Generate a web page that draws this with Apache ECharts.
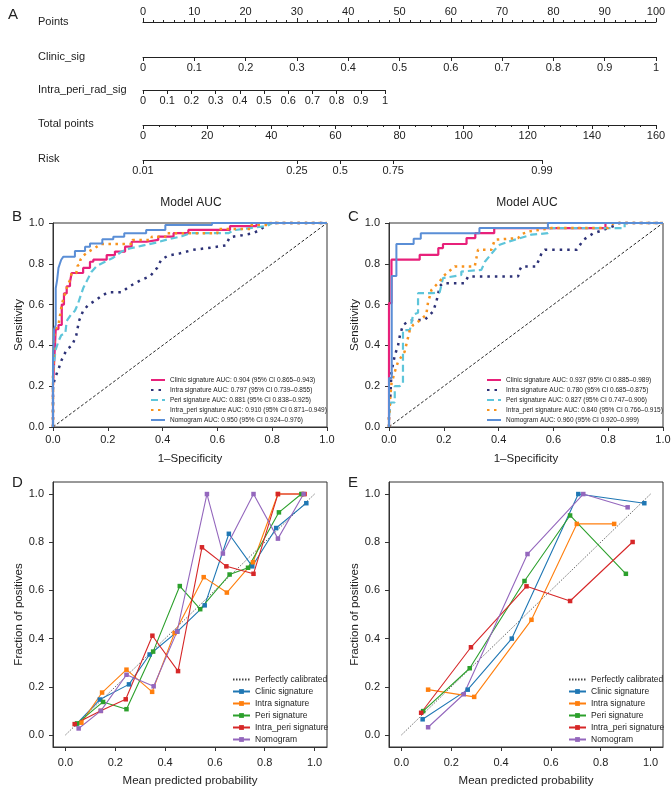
<!DOCTYPE html>
<html>
<head>
<meta charset="utf-8">
<script src="https://cdn.jsdelivr.net/npm/echarts@6/dist/echarts.min.js"></script>
<style>
  html, body { margin: 0; padding: 0; background: #fff; }
  #main { width: 672px; height: 789px; }
</style>
</head>
<body>
<div id="main"></div>
<script>
// ---- nomogram (panel A) ----
var nomoRows = ['Points', 'Clinic_sig', 'Intra_peri_rad_sig', 'Total points', 'Risk'];
var riskPoints = [0, 48, 61.5, 78, 124.4];
var riskLabels = ['0.01', '0.25', '0.5', '0.75', '0.99'];

// ---- ROC curves, training (B) and validation (C): [1-specificity, sensitivity] ----
var rocNamesB = [
  'Clinic signature AUC: 0.904 (95% CI 0.865\u20130.943)',
  'Intra signature AUC: 0.797 (95% CI 0.739\u20130.855)',
  'Peri signature AUC: 0.881 (95% CI 0.838\u20130.925)',
  'Intra_peri signature AUC: 0.910 (95% CI 0.871\u20130.949)',
  'Nomogram AUC: 0.950 (95% CI 0.924\u20130.976)'
];
var rocNamesC = [
  'Clinic signature AUC: 0.937 (95% CI 0.885\u20130.989)',
  'Intra signature AUC: 0.780 (95% CI 0.685\u20130.875)',
  'Peri signature AUC: 0.827 (95% CI 0.747\u20130.906)',
  'Intra_peri signature AUC: 0.840 (95% CI 0.766\u20130.915)',
  'Nomogram AUC: 0.960 (95% CI 0.920\u20130.999)'
];
var clinicB = [[0,0],[0,0.2],[0.005,0.2],[0.005,0.34],[0.01,0.48],[0.02,0.48],[0.02,0.5],[0.032,0.5],[0.032,0.6],[0.04,0.6],[0.04,0.655],[0.05,0.655],[0.05,0.69],[0.062,0.69],[0.062,0.71],[0.068,0.71],[0.068,0.755],[0.11,0.755],[0.11,0.78],[0.135,0.78],[0.135,0.81],[0.147,0.81],[0.147,0.82],[0.196,0.82],[0.196,0.843],[0.226,0.843],[0.226,0.86],[0.263,0.86],[0.263,0.884],[0.287,0.884],[0.287,0.908],[0.342,0.908],[0.342,0.917],[0.384,0.917],[0.384,0.933],[0.44,0.933],[0.44,0.95],[0.494,0.95],[0.494,0.966],[0.646,0.966],[0.646,0.985],[0.743,0.985],[0.743,1],[1,1]];
var intraB = [[0,0],[0,0.2],[0.007,0.24],[0.019,0.28],[0.032,0.33],[0.05,0.38],[0.07,0.4],[0.085,0.45],[0.095,0.52],[0.11,0.57],[0.13,0.6],[0.155,0.62],[0.175,0.64],[0.2,0.66],[0.25,0.66],[0.28,0.69],[0.32,0.72],[0.355,0.74],[0.38,0.78],[0.395,0.82],[0.42,0.84],[0.46,0.85],[0.51,0.868],[0.58,0.88],[0.63,0.89],[0.645,0.93],[0.69,0.94],[0.73,0.95],[0.755,0.966],[0.78,0.99],[0.8,1],[1,1]];
var periB = [[0,0],[0,0.27],[0.005,0.33],[0.01,0.38],[0.02,0.42],[0.03,0.45],[0.045,0.46],[0.05,0.52],[0.065,0.55],[0.08,0.57],[0.09,0.6],[0.1,0.64],[0.11,0.68],[0.125,0.72],[0.14,0.76],[0.16,0.79],[0.19,0.81],[0.22,0.83],[0.25,0.86],[0.28,0.875],[0.33,0.89],[0.38,0.905],[0.42,0.92],[0.47,0.935],[0.5,0.95],[0.64,0.95],[0.66,0.965],[0.72,0.975],[0.78,0.985],[0.8,1],[1,1]];
var intraPeriB = [[0,0],[0,0.25],[0.005,0.25],[0.005,0.45],[0.01,0.48],[0.02,0.5],[0.025,0.5],[0.032,0.6],[0.045,0.66],[0.055,0.7],[0.062,0.72],[0.068,0.755],[0.085,0.755],[0.09,0.79],[0.1,0.8],[0.1,0.82],[0.11,0.84],[0.13,0.86],[0.15,0.875],[0.16,0.884],[0.175,0.897],[0.29,0.897],[0.29,0.917],[0.36,0.917],[0.36,0.933],[0.41,0.933],[0.41,0.95],[0.6,0.95],[0.6,0.97],[0.72,0.97],[0.72,0.99],[0.79,0.99],[0.79,1],[1,1]];
var nomoB = [[0,0],[0,0.33],[0.004,0.33],[0.004,0.48],[0.01,0.5],[0.01,0.68],[0.015,0.72],[0.02,0.78],[0.025,0.8],[0.03,0.82],[0.038,0.835],[0.08,0.835],[0.08,0.863],[0.117,0.863],[0.117,0.884],[0.135,0.884],[0.135,0.9],[0.18,0.9],[0.18,0.92],[0.22,0.92],[0.22,0.933],[0.26,0.933],[0.26,0.95],[0.34,0.95],[0.34,0.966],[0.41,0.966],[0.41,0.99],[0.58,0.99],[0.58,1],[1,1]];

var clinicC = [[0,0],[0,0.607],[0.009,0.607],[0.009,0.82],[0.112,0.82],[0.112,0.844],[0.18,0.844],[0.18,0.877],[0.197,0.877],[0.197,0.897],[0.283,0.897],[0.283,0.926],[0.315,0.926],[0.315,0.95],[0.384,0.95],[0.384,0.975],[0.79,0.975],[0.79,1],[1,1]];
var intraC = [[0,0],[0,0.05],[0.005,0.15],[0.009,0.27],[0.021,0.35],[0.033,0.4],[0.04,0.45],[0.051,0.5],[0.069,0.516],[0.088,0.525],[0.13,0.525],[0.142,0.54],[0.161,0.566],[0.173,0.615],[0.179,0.65],[0.185,0.69],[0.197,0.705],[0.276,0.705],[0.289,0.738],[0.471,0.738],[0.477,0.77],[0.484,0.787],[0.538,0.787],[0.544,0.81],[0.557,0.852],[0.569,0.869],[0.685,0.869],[0.71,0.918],[0.746,0.95],[0.77,0.96],[0.83,0.99],[0.84,1],[1,1]];
var periC = [[0,0],[0,0.05],[0.006,0.05],[0.006,0.12],[0.021,0.12],[0.021,0.2],[0.039,0.2],[0.051,0.213],[0.051,0.475],[0.076,0.475],[0.088,0.55],[0.106,0.56],[0.106,0.656],[0.16,0.656],[0.185,0.66],[0.197,0.73],[0.264,0.745],[0.264,0.762],[0.337,0.77],[0.35,0.81],[0.386,0.869],[0.404,0.893],[0.44,0.91],[0.52,0.943],[0.58,0.95],[0.587,0.975],[0.86,0.975],[0.86,1],[1,1]];
var intraPeriC = [[0,0],[0,0.05],[0.005,0.15],[0.009,0.213],[0.021,0.27],[0.033,0.32],[0.057,0.369],[0.076,0.475],[0.088,0.5],[0.106,0.516],[0.136,0.55],[0.142,0.607],[0.155,0.672],[0.167,0.689],[0.185,0.713],[0.197,0.738],[0.24,0.787],[0.313,0.787],[0.325,0.869],[0.374,0.869],[0.386,0.918],[0.471,0.926],[0.484,0.946],[0.514,0.959],[0.593,0.975],[0.8,0.975],[0.82,1],[1,1]];
var nomoC = [[0,0],[0,0.24],[0.01,0.24],[0.01,0.74],[0.027,0.74],[0.027,0.897],[0.09,0.897],[0.09,0.923],[0.116,0.923],[0.116,0.95],[0.33,0.95],[0.33,0.975],[0.58,0.975],[0.58,1],[1,1]];
var diagonal = [[0,0],[1,1]];

// ---- calibration curves (D training, E validation): [mean predicted, fraction positive] ----
var calNames = ['Clinic signature', 'Intra signature', 'Peri signature', 'Intra_peri signature', 'Nomogram'];
var calClinicD = [[0.044,0.045],[0.138,0.147],[0.255,0.21],[0.338,0.334],[0.449,0.429],[0.559,0.538],[0.656,0.835],[0.75,0.70],[0.846,0.859],[0.967,0.962]];
var calIntraD = [[0.064,0.051],[0.147,0.176],[0.245,0.271],[0.348,0.179],[0.438,0.423],[0.555,0.655],[0.648,0.591],[0.753,0.717],[0.853,1.0],[0.95,1.0]];
var calPeriD = [[0.047,0.048],[0.151,0.137],[0.245,0.107],[0.352,0.346],[0.459,0.618],[0.541,0.522],[0.659,0.666],[0.733,0.694],[0.857,0.924],[0.947,1.0]];
var calIntraPeriD = [[0.037,0.045],[0.142,0.1],[0.242,0.148],[0.349,0.412],[0.452,0.265],[0.548,0.779],[0.646,0.70],[0.755,0.669],[0.853,1.0],[0.96,1.0]];
var calNomoD = [[0.053,0.027],[0.142,0.1],[0.245,0.25],[0.354,0.202],[0.448,0.429],[0.568,1.0],[0.632,0.753],[0.755,1.0],[0.853,0.815],[0.956,1.0]];
var calClinicE = [[0.085,0.065],[0.266,0.188],[0.443,0.4],[0.71,1.0],[0.975,0.962]];
var calIntraE = [[0.107,0.188],[0.292,0.158],[0.522,0.478],[0.704,0.876],[0.854,0.876]];
var calPeriE = [[0.087,0.099],[0.274,0.277],[0.494,0.639],[0.677,0.911],[0.901,0.669]];
var calIntraPeriE = [[0.079,0.092],[0.279,0.364],[0.502,0.617],[0.677,0.556],[0.928,0.801]];
var calNomoE = [[0.107,0.032],[0.25,0.169],[0.506,0.751],[0.73,1.0],[0.908,0.945]];
var tickVals = [0, 0.2, 0.4, 0.6, 0.8, 1.0];

var FONT = "'Liberation Sans', Arial, Helvetica, sans-serif";
var INK = '#222';
var rocColors = ['#E8207A', '#2D3277', '#5EC5DA', '#F7931E', '#5A8ED6'];
var rocStyles = [
  {width: 2.2, type: 'solid'},
  {width: 2.5, type: [2.5, 5]},
  {width: 2.2, type: [7, 4]},
  {width: 2.5, type: [2.5, 4.5]},
  {width: 2, type: 'solid'}
];
var calColors = ['#1F77B4', '#FF7F0E', '#2CA02C', '#D62728', '#9467BD'];
var noSymbol = {color: 'transparent', borderColor: 'transparent', borderWidth: 0};

var option = {
  animation: false,
  backgroundColor: '#fff',
  textStyle: {fontFamily: FONT},
  grid: [], xAxis: [], yAxis: [], series: [], legend: [],
  graphic: {elements: []}
};

function text(x, y, str, size, align) {
  option.graphic.elements.push({
    type: 'text', x: x, y: y, silent: true,
    style: {text: str, fontSize: size, fontFamily: FONT, fill: INK,
            align: align || 'left', verticalAlign: 'middle'}
  });
}

// nomogram scale: one thin grid per row
function nomoAxis(y, width, pos, ax) {
  var gi = option.grid.length;
  option.grid.push({left: 143, top: pos === 'top' ? y : y - 1, width: width, height: 1, outerBoundsMode: 'none'});
  var x = {
    gridIndex: gi, type: 'value', position: pos,
    axisLine: {show: true, onZero: false, lineStyle: {color: INK, width: 1}},
    axisTick: {show: true, length: 4, lineStyle: {color: INK, width: 1}},
    axisLabel: {color: INK, fontSize: 11, margin: 5, fontFamily: FONT},
    splitLine: {show: false}
  };
  for (var k in ax) x[k] = ax[k];
  option.xAxis.push(x);
  option.yAxis.push({gridIndex: gi, type: 'value', show: false, min: 0, max: 1});
}

text(8, 15, 'A', 15);
var rowY = [22, 57, 90, 124, 159];
nomoRows.forEach(function (r, i) { text(38, rowY[i], r, 11); });

nomoAxis(22, 513, 'top', {min: 0, max: 100, interval: 10,
  minorTick: {show: true, splitNumber: 5, length: 2, lineStyle: {color: INK}}});
nomoAxis(57, 513, 'bottom', {min: 0, max: 1, interval: 0.1});
nomoAxis(90, 242, 'bottom', {min: 0, max: 1, interval: 0.1});
nomoAxis(125, 513, 'bottom', {min: 0, max: 160, interval: 20,
  minorTick: {show: true, splitNumber: 4, length: 2, lineStyle: {color: INK}}});
nomoAxis(160, 399, 'bottom', {min: 0, max: 124.4,
  axisTick: {show: true, length: 4, customValues: riskPoints, lineStyle: {color: INK}},
  axisLabel: {color: INK, fontSize: 11, margin: 5, fontFamily: FONT, customValues: riskPoints,
    formatter: function (v) { return riskLabels[riskPoints.indexOf(v)]; }}});

function frameAxes(gi, lim, xName, yName, custom, xMargin, xGap) {
  function axis() {
    return {
      gridIndex: gi, type: 'value', nameLocation: 'middle', min: lim[0], max: lim[1],
      nameTextStyle: {color: INK, fontSize: 11.5, fontFamily: FONT},
      axisLine: {show: true, onZero: false, lineStyle: {color: '#333', width: 1}},
      axisTick: {show: true, length: 4, lineStyle: {color: '#333'}},
      axisLabel: {color: INK, fontSize: 11, margin: 9, fontFamily: FONT,
        formatter: function (v) { return v.toFixed(1); }},
      splitLine: {show: false}
    };
  }
  var xa = axis(), ya = axis();
  xa.name = xName; ya.name = yName;
  xa.nameGap = xGap; ya.nameGap = 28;
  xa.axisLabel.margin = xMargin;
  if (custom) {
    xa.axisTick.customValues = tickVals; xa.axisLabel.customValues = tickVals;
    ya.axisTick.customValues = tickVals; ya.axisLabel.customValues = tickVals;
  } else {
    xa.interval = 0.2; ya.interval = 0.2;
  }
  option.xAxis.push(xa);
  option.yAxis.push(ya);
}

function rocPanel(left, letter, names, curves) {
  var gi = option.grid.length;
  option.grid.push({left: left, top: 223, width: 274, height: 204, show: true,
    borderColor: '#333', borderWidth: 1, outerBoundsMode: 'none'});
  frameAxes(gi, [0, 1], '1\u2013Specificity', 'Sensitivity', false, 7, 26);
  text(left - 41, 217, letter, 15);
  text(left + 138, 203, 'Model AUC', 12, 'center');
  option.series.push({type: 'line', xAxisIndex: gi, yAxisIndex: gi, data: diagonal,
    symbol: 'none', silent: true, lineStyle: {color: '#111', width: 0.9, type: [3, 2]}});
  curves.forEach(function (c, i) {
    option.series.push({type: 'line', name: names[i], xAxisIndex: gi, yAxisIndex: gi,
      data: c, symbol: 'none', clip: false,
      lineStyle: {color: rocColors[i], width: rocStyles[i].width, type: rocStyles[i].type, cap: 'butt'},
      itemStyle: {color: rocColors[i]}});
  });
  option.legend.push({data: names, orient: 'vertical', left: left + 97, top: 376,
    itemWidth: 14, itemHeight: 8, itemGap: 2, padding: 0, selectedMode: false,
    itemStyle: noSymbol,
    textStyle: {fontSize: 6.5, color: INK, fontFamily: FONT, lineHeight: 8}});
}

function calPanel(left, letter, sets) {
  var gi = option.grid.length;
  option.grid.push({left: left, top: 482, width: 274, height: 265, show: true,
    borderColor: '#333', borderWidth: 1, outerBoundsMode: 'none'});
  frameAxes(gi, [-0.05, 1.05], 'Mean predicted probability', 'Fraction of positives', true, 10, 28);
  text(left - 41, 483, letter, 15);
  option.series.push({type: 'line', name: 'Perfectly calibrated', xAxisIndex: gi, yAxisIndex: gi,
    data: diagonal, symbol: 'none', silent: true,
    lineStyle: {color: '#444', width: 0.8, type: [1.5, 1.5]}, itemStyle: {color: '#444'}});
  sets.forEach(function (s, i) {
    option.series.push({type: 'line', name: calNames[i], xAxisIndex: gi, yAxisIndex: gi,
      data: s, symbol: 'rect', symbolSize: 4.5, clip: false,
      lineStyle: {color: calColors[i], width: 1.1}, itemStyle: {color: calColors[i]}});
  });
  var items = [{name: 'Perfectly calibrated', itemStyle: noSymbol}].concat(calNames);
  option.legend.push({data: items, orient: 'vertical',
    left: left + 179, top: 675, itemWidth: 17, itemHeight: 6, itemGap: 3, padding: 0,
    selectedMode: false, textStyle: {fontSize: 8.5, color: INK, fontFamily: FONT, lineHeight: 9}});
}

rocPanel(53, 'B', rocNamesB, [clinicB, intraB, periB, intraPeriB, nomoB]);
rocPanel(389, 'C', rocNamesC, [clinicC, intraC, periC, intraPeriC, nomoC]);
calPanel(53, 'D', [calClinicD, calIntraD, calPeriD, calIntraPeriD, calNomoD]);
calPanel(389, 'E', [calClinicE, calIntraE, calPeriE, calIntraPeriE, calNomoE]);

var chart = echarts.init(document.getElementById('main'), null, {renderer: 'canvas'});
chart.setOption(option);
</script>
</body>
</html>
